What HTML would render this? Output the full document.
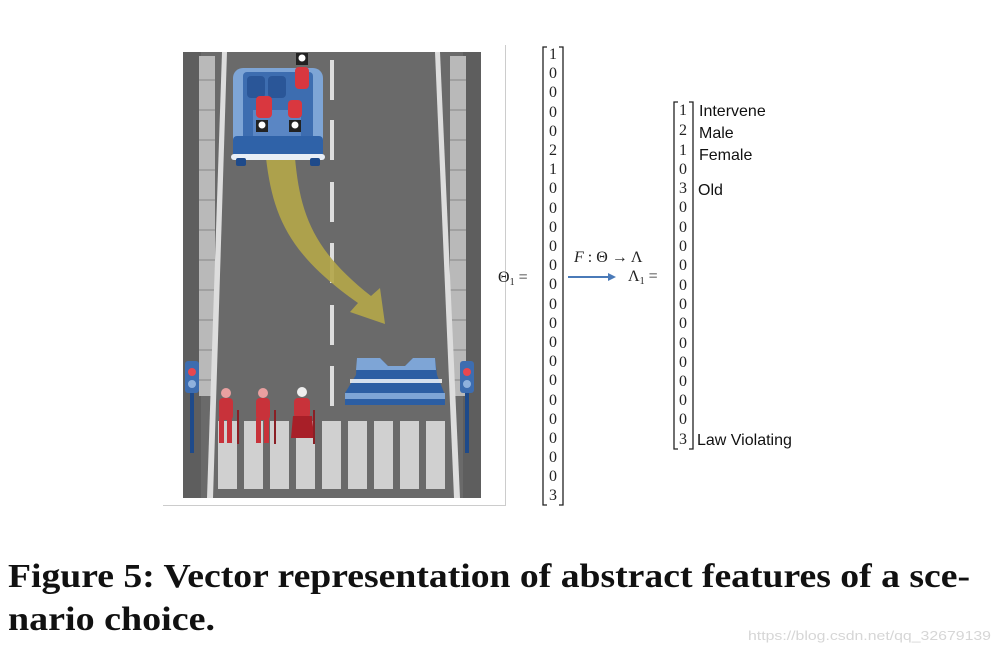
<!DOCTYPE html>
<html><head><style>
html,body{margin:0;padding:0;background:#fff;width:999px;height:654px;overflow:hidden}
svg{display:block}
.m{font-family:"Liberation Serif",serif;font-size:16px;fill:#222}
.s{font-family:"Liberation Sans",sans-serif;font-size:16px;fill:#111}
</style></head><body>
<svg width="999" height="654" viewBox="0 0 999 654" xmlns="http://www.w3.org/2000/svg">
<line x1="505.5" y1="45" x2="505.5" y2="505" stroke="#ccc" stroke-width="1"/>
<line x1="163" y1="505.5" x2="506" y2="505.5" stroke="#ccc" stroke-width="1"/>
<rect x="183" y="52" width="298" height="446" rx="3" fill="#6a6a6a"/>
<rect x="183" y="52" width="18" height="446" fill="#5e5e5e"/>
<rect x="463" y="52" width="18" height="446" fill="#5e5e5e"/>
<rect x="199" y="56" width="16" height="340" fill="#b9b9b9"/>
<rect x="450" y="56" width="16" height="340" fill="#b9b9b9"/>
<g stroke="#888" stroke-width="1">
<path d="M199 80h16M199 110h16M199 140h16M199 170h16M199 200h16M199 230h16M199 260h16M199 290h16M199 320h16M199 350h16M199 380h16"/>
<path d="M450 80h16M450 110h16M450 140h16M450 170h16M450 200h16M450 230h16M450 260h16M450 290h16M450 320h16M450 350h16M450 380h16"/>
</g>
<polygon points="222,52 227,52 213,498 207,498" fill="#ddd"/>
<polygon points="435,52 440,52 460,498 454,498" fill="#ddd"/>
<g fill="#ddd">
<rect x="330" y="60" width="4" height="40"/><rect x="330" y="120" width="4" height="40"/><rect x="330" y="182" width="4" height="40"/><rect x="330" y="243" width="4" height="40"/><rect x="330" y="305" width="4" height="40"/><rect x="330" y="366" width="4" height="40"/>
</g>
<g fill="#d0d0d0">
<rect x="218" y="421" width="19" height="68"/><rect x="244" y="421" width="19" height="68"/><rect x="270" y="421" width="19" height="68"/><rect x="296" y="421" width="19" height="68"/><rect x="322" y="421" width="19" height="68"/><rect x="348" y="421" width="19" height="68"/><rect x="374" y="421" width="19" height="68"/><rect x="400" y="421" width="19" height="68"/><rect x="426" y="421" width="19" height="68"/>
</g>
<path d="M266 158 C273 218 290 255 358 303 L350 312 L385 324 L380 288 L371 296 C312 250 300 212 295 158 Z" fill="#b3a64a" opacity="0.92"/>
<rect x="233" y="68" width="90" height="86" rx="10" fill="#7ea5d6"/>
<rect x="243" y="72" width="70" height="74" rx="4" fill="#3d6db0"/>
<rect x="247" y="76" width="18" height="22" rx="4" fill="#2a5698"/><rect x="268" y="76" width="18" height="22" rx="4" fill="#2a5698"/>
<rect x="253" y="110" width="48" height="26" fill="#5a86c4"/>
<rect x="233" y="136" width="90" height="22" rx="4" fill="#2f62a8"/>
<rect x="231" y="154" width="94" height="6" rx="3" fill="#e8eef6"/>
<rect x="236" y="158" width="10" height="8" rx="2" fill="#1e4a8a"/><rect x="310" y="158" width="10" height="8" rx="2" fill="#1e4a8a"/>
<g fill="#d9373f">
<rect x="295" y="67" width="14" height="22" rx="4"/><rect x="256" y="96" width="16" height="22" rx="4"/><rect x="288" y="100" width="14" height="18" rx="4"/>
</g>
<g fill="#222"><rect x="296" y="53" width="12" height="12"/><rect x="256" y="120" width="12" height="12"/><rect x="289" y="120" width="12" height="12"/></g>
<g fill="#fff"><circle cx="302" cy="58" r="3.5"/><circle cx="262" cy="125" r="3.5"/><circle cx="295" cy="125" r="3.5"/></g>
<path d="M357 358 L380 358 L388 366 L405 366 L413 358 L435 358 L437 375 L445 395 L445 405 L345 405 L345 393 L356 375 Z" fill="#2c5ea3"/>
<path d="M357 358 L380 358 L388 366 L405 366 L413 358 L435 358 L436 370 L356 370 Z" fill="#7ea5d6"/>
<rect x="350" y="379" width="92" height="4" fill="#fff" opacity="0.8"/>
<rect x="345" y="393" width="100" height="6" fill="#7ea5d6"/>
<g fill="#c8323a">
<circle cx="226" cy="393" r="5" fill="#e9a0a0"/><rect x="219" y="398" width="14" height="22" rx="4"/><rect x="219" y="418" width="5" height="25"/><rect x="227" y="418" width="5" height="25"/>
<circle cx="263" cy="393" r="5" fill="#e9a0a0"/><rect x="256" y="398" width="14" height="22" rx="4"/><rect x="256" y="418" width="5" height="25"/><rect x="264" y="418" width="5" height="25"/>
<circle cx="302" cy="392" r="5" fill="#eee"/><rect x="294" y="398" width="16" height="20" rx="4"/><path d="M293 416 L312 416 L314 438 L291 438 Z" fill="#a81f28"/>
</g>
<g stroke="#8a1f25" stroke-width="2"><line x1="238" y1="410" x2="238" y2="444"/><line x1="275" y1="410" x2="275" y2="444"/><line x1="314" y1="410" x2="314" y2="444"/></g>
<rect x="190" y="380" width="4" height="73" fill="#1e4a8a"/><rect x="465" y="380" width="4" height="73" fill="#1e4a8a"/>
<rect x="185" y="361" width="14" height="32" rx="3" fill="#3d6db0"/><rect x="460" y="361" width="14" height="32" rx="3" fill="#3d6db0"/>
<circle cx="192" cy="372" r="4" fill="#e8474f"/><circle cx="192" cy="384" r="4" fill="#8fb1dd"/>
<circle cx="467" cy="372" r="4" fill="#e8474f"/><circle cx="467" cy="384" r="4" fill="#8fb1dd"/>

<text x="498" y="282" class="m">Θ<tspan font-size="10" dy="3">1</tspan><tspan dy="-3"> =</tspan></text>
<path d="M547 47 h-4 v458 h4" fill="none" stroke="#222" stroke-width="1.3"/>
<path d="M559 47 h4 v458 h-4" fill="none" stroke="#222" stroke-width="1.3"/>
<g class="m" text-anchor="middle">
<text x="553" y="59">1</text><text x="553" y="78">0</text><text x="553" y="97">0</text><text x="553" y="117">0</text><text x="553" y="136">0</text><text x="553" y="155">2</text><text x="553" y="174">1</text><text x="553" y="193">0</text><text x="553" y="213">0</text><text x="553" y="232">0</text><text x="553" y="251">0</text><text x="553" y="270">0</text><text x="553" y="289">0</text><text x="553" y="309">0</text><text x="553" y="328">0</text><text x="553" y="347">0</text><text x="553" y="366">0</text><text x="553" y="385">0</text><text x="553" y="405">0</text><text x="553" y="424">0</text><text x="553" y="443">0</text><text x="553" y="462">0</text><text x="553" y="481">0</text><text x="553" y="500">3</text>
</g>
<text x="574" y="262" class="m"><tspan font-style="italic">F</tspan> : Θ → Λ</text>
<line x1="568" y1="277" x2="610" y2="277" stroke="#4a7ab8" stroke-width="2"/>
<path d="M608 273 L616 277 L608 281 Z" fill="#4a7ab8"/>
<text x="628" y="281" class="m">Λ<tspan font-size="10" dy="3">1</tspan><tspan dy="-3"> =</tspan></text>
<path d="M678 102 h-4 v347 h4" fill="none" stroke="#222" stroke-width="1.3"/>
<path d="M689 102 h4 v347 h-4" fill="none" stroke="#222" stroke-width="1.3"/>
<g class="m" text-anchor="middle">
<text x="683" y="115">1</text><text x="683" y="135">2</text><text x="683" y="155">1</text><text x="683" y="174">0</text><text x="683" y="193">3</text><text x="683" y="212">0</text><text x="683" y="232">0</text><text x="683" y="251">0</text><text x="683" y="270">0</text><text x="683" y="290">0</text><text x="683" y="309">0</text><text x="683" y="328">0</text><text x="683" y="348">0</text><text x="683" y="367">0</text><text x="683" y="386">0</text><text x="683" y="405">0</text><text x="683" y="424">0</text><text x="683" y="444">3</text>
</g>
<g class="s">
<text x="699" y="116">Intervene</text><text x="699" y="138">Male</text><text x="699" y="160">Female</text><text x="698" y="195">Old</text><text x="697" y="445">Law Violating</text>
</g>
<g font-family="Liberation Serif,serif" font-weight="bold" font-size="34" fill="#111">
<text x="8" y="587" textLength="962" lengthAdjust="spacingAndGlyphs">Figure 5: Vector representation of abstract features of a sce-</text>
<text x="8" y="630" textLength="207" lengthAdjust="spacingAndGlyphs">nario choice.</text>
</g>
<text x="748" y="640" font-family="Liberation Sans,sans-serif" font-size="13" fill="#d6d6d6" textLength="243" lengthAdjust="spacingAndGlyphs">https://blog.csdn.net/qq_32679139</text>
</svg>
</body></html>
